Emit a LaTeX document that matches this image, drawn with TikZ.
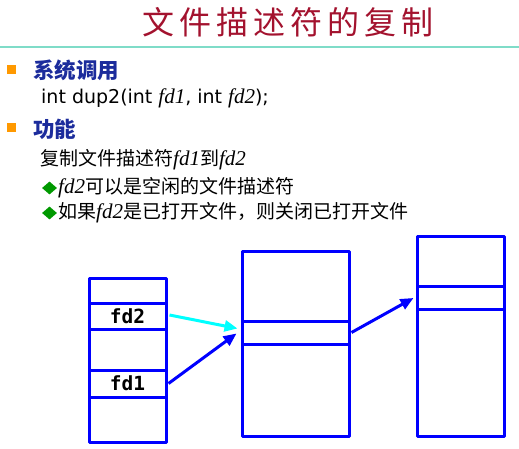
\documentclass[tikz,border=0pt]{standalone}
\usepackage{fontspec}
\usetikzlibrary{arrows.meta,calc,shapes.geometric}
\setmainfont{DejaVu Sans}
\newfontfamily\cjk{Noto Sans CJK SC}
\newfontfamily\itf{Liberation Serif}
\newfontfamily\monof{DejaVu Sans Mono}
\definecolor{titlered}{HTML}{A3122E}
\definecolor{headblue}{HTML}{1C2C9C}
\definecolor{rulegreen}{HTML}{7FDCC8}
\definecolor{bulletorange}{HTML}{FF9900}
\definecolor{diamondgreen}{HTML}{009900}
\definecolor{ptrcyan}{RGB}{0,255,255}
\definecolor{ptrblue}{RGB}{0,0,255}
\newcommand{\fdi}[1]{{\itf\itshape\fontsize{21}{21}\selectfont #1}}
\tikzset{
  memory/.style={draw=ptrblue, line width=3pt, line join=round, rectangle, inner sep=0pt, minimum width=#1},
  cell/.style={draw=ptrblue, line width=3pt, line join=round, rectangle, inner sep=0pt},
  ptr/.style={line width=3pt, -{Triangle[length=13pt,width=11pt]}},
  sq/.style={fill=bulletorange, minimum size=9pt, inner sep=0pt},
  dia/.style={fill=diamondgreen, diamond, minimum width=15pt, minimum height=13pt, inner sep=0pt},
  txt/.style={anchor=west, inner sep=0pt, text=black, font=\fontsize{19}{19}\selectfont},
  head/.style={anchor=west, inner sep=0pt, text=headblue, font=\cjk\bfseries\fontsize{21.5}{21.5}\selectfont},
  fdlabel/.style={font=\monof\bfseries\fontsize{19.5}{19.5}\selectfont},
}
\begin{document}
\begin{tikzpicture}[x=1pt,y=-1pt]
\useasboundingbox (0,0) rectangle (519,449);
% title
\node[text=titlered, font=\cjk\fontsize{32}{32}\selectfont, inner sep=0pt] (title) at (288,22)
  {文\hspace{5pt}件\hspace{5pt}描\hspace{5pt}述\hspace{5pt}符\hspace{5pt}的\hspace{5pt}复\hspace{5pt}制};
\coordinate (r1) at (0,47);
\coordinate (r2) at (519,47);
\draw[rulegreen, line width=2pt] (r1) -- (r2);
% headings
\node[sq] (b1) at (11.5,70) {};
\node[head] (h1) at (33,70) {系统调用};
\node[txt] (sig) at (41,98) {int dup2(int \fdi{fd1}, int \fdi{fd2});};
\node[sq] (b2) at (11.5,128) {};
\node[head] (h2) at (33,129) {功能};
\node[txt] (l1) at (40,160) {{\cjk 复制文件描述符}\fdi{fd1}{\cjk 到}\fdi{fd2}};
\node[dia] (d1) at (49.5,188) {};
\node[txt] (l2) at (58,188) {\fdi{fd2}{\cjk 可以是空闲的文件描述符}};
\node[dia] (d2) at (49.5,213) {};
\node[txt] (l3) at (58,213) {{\cjk 如果}\fdi{fd2}{\cjk 是已打开文件，则关闭已打开文件}};
% left table
\node[memory=77pt, minimum height=164pt] (fdt) at (127.5,360) {};
\node[cell, minimum width=77pt, minimum height=26pt, fdlabel] (fd2) at (127.5,316) {fd2};
\node[cell, minimum width=77pt, minimum height=27pt, fdlabel] (fd1) at (127.5,383.5) {fd1};
% middle table
\node[memory=107pt, minimum height=185pt] (ft) at (295.5,343.5) {};
\node[cell, minimum width=107pt, minimum height=23pt] (fte) at (295.5,332.5) {};
% right table
\node[memory=87pt, minimum height=200pt] (it) at (460.5,336) {};
\node[cell, minimum width=87pt, minimum height=23pt] (ite) at (460.5,297.5) {};
% pointers
\draw[ptr, ptrcyan] ($(fd2.east)+(2,-1)$) -- ($(fte.west)+(-3,-4)$);
\draw[ptr, ptrblue] ($(fd1.east)+(1,0)$) -- ($(fte.west)+(-4,1)$);
\draw[ptr, ptrblue] ($(fte.east)+(1,0)$) -- ($(ite.west)+(-2,0.5)$);
\end{tikzpicture}
\end{document}
